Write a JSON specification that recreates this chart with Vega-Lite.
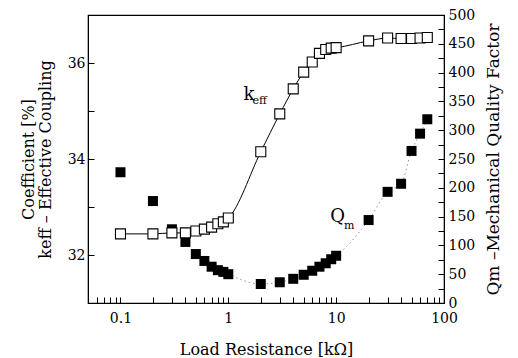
{
  "$schema": "https://vega.github.io/schema/vega-lite/v6.json",
  "width": 356,
  "height": 288,
  "autosize": {"type": "none"},
  "padding": {"left": 88, "top": 15, "right": 74, "bottom": 55},
  "background": "white",
  "config": {
    "view": {"stroke": "black", "strokeWidth": 1.2},
    "font": "DejaVu Serif",
    "axis": {
      "labelFont": "DejaVu Serif",
      "titleFont": "DejaVu Serif",
      "labelColor": "black",
      "titleColor": "black",
      "domainColor": "black",
      "tickColor": "black",
      "tickWidth": 1,
      "grid": false,
      "titleFontWeight": "normal",
      "labelFontSize": 14,
      "titleFontSize": 16
    }
  },
  "datasets": {
    "pts": [
      {"R": 0.1, "k": 32.44, "Q": 227},
      {"R": 0.2, "k": 32.44, "Q": 177},
      {"R": 0.3, "k": 32.46, "Q": 128},
      {"R": 0.4, "k": 32.46, "Q": 106},
      {"R": 0.5, "k": 32.5, "Q": 85},
      {"R": 0.6, "k": 32.54, "Q": 73},
      {"R": 0.7, "k": 32.58, "Q": 63},
      {"R": 0.8, "k": 32.65, "Q": 57},
      {"R": 0.9, "k": 32.69, "Q": 54},
      {"R": 1, "k": 32.77, "Q": 50},
      {"R": 2, "k": 34.15, "Q": 33},
      {"R": 3, "k": 34.94, "Q": 36},
      {"R": 4, "k": 35.46, "Q": 42},
      {"R": 5, "k": 35.81, "Q": 49},
      {"R": 6, "k": 36.02, "Q": 56},
      {"R": 7, "k": 36.2, "Q": 63},
      {"R": 8, "k": 36.28, "Q": 69},
      {"R": 9, "k": 36.31, "Q": 76},
      {"R": 10, "k": 36.32, "Q": 82},
      {"R": 20, "k": 36.46, "Q": 144},
      {"R": 30, "k": 36.52, "Q": 193},
      {"R": 40, "k": 36.51, "Q": 207},
      {"R": 50, "k": 36.51, "Q": 264},
      {"R": 60, "k": 36.52, "Q": 294},
      {"R": 70, "k": 36.53, "Q": 319}
    ],
    "klab": [
      {"R": 1.55, "k": 35.33, "t": "k", "s": 18},
      {"R": 1.95, "k": 35.2, "t": "eff", "s": 11}
    ],
    "qlab": [
      {"R": 10.3, "Q": 150, "t": "Q", "s": 18},
      {"R": 13.2, "Q": 134, "t": "m", "s": 11}
    ]
  },
  "layer": [
    {
      "encoding": {
        "x": {
          "field": "R", "type": "quantitative",
          "scale": {"type": "log", "domain": [0.05, 100], "nice": false},
          "axis": {
            "title": "Load Resistance [k\u03a9]",
            "values": [0.05,0.06,0.07,0.08,0.09,0.1,0.2,0.3,0.4,0.5,0.6,0.7,0.8,0.9,1,2,3,4,5,6,7,8,9,10,20,30,40,50,60,70,80,90,100],
            "labelExpr": "indexof([0.1,1,10,100], datum.value) >= 0 ? format(datum.value, '~g') : ''",
            "tickSize": -6,
            "labelPadding": 14,
            "labelFlush": false,
            "labelOverlap": false,
            "titlePadding": 16
          }
        },
        "y": {
          "field": "Q", "type": "quantitative",
          "scale": {"domain": [0, 500], "nice": false},
          "axis": {
            "orient": "right",
            "title": "Qm \u2013Mechanical Quality Factor",
            "titleAngle": -90,
            "titleFontSize": 17,
            "titlePadding": 28,
            "values": [0,25,50,75,100,125,150,175,200,225,250,275,300,325,350,375,400,425,450,475,500],
            "labelExpr": "datum.value % 50 == 0 ? datum.label : ''",
            "labelOverlap": false,
            "labelFlush": false,
            "tickSize": -6,
            "labelPadding": 10
          }
        }
      },
      "layer": [
        {
          "data": {"name": "pts"},
          "transform": [{"filter": "datum.R >= 0.4"}],
          "mark": {"type": "line", "interpolate": "monotone", "color": "#777", "strokeWidth": 0.8, "strokeDash": [1.5, 3]}
        },
        {
          "data": {"name": "pts"},
          "mark": {"type": "square", "size": 100, "filled": true, "color": "black", "opacity": 1}
        },
        {
          "data": {"name": "qlab"},
          "mark": {"type": "text", "font": "DejaVu Serif", "color": "black", "align": "center", "baseline": "middle"},
          "encoding": {"text": {"field": "t"}, "size": {"field": "s", "type": "quantitative", "scale": null}}
        }
      ]
    },
    {
      "encoding": {
        "x": {"field": "R", "type": "quantitative", "scale": {"type": "log", "domain": [0.05, 100], "nice": false}},
        "y": {
          "field": "k", "type": "quantitative",
          "scale": {"domain": [31, 37], "nice": false},
          "axis": {
            "orient": "left",
            "title": ["Coefficient [%]", "keff \u2013 Effective Coupling"],
            "titlePadding": 14,
            "titleLineHeight": 17,
            "values": [31, 32, 33, 34, 35, 36, 37],
            "labelExpr": "datum.value % 2 == 0 ? datum.label : ''",
            "labelOverlap": false,
            "labelFlush": false,
            "tickSize": -6,
            "labelPadding": 9
          }
        }
      },
      "layer": [
        {
          "data": {"name": "pts"},
          "mark": {"type": "line", "interpolate": "monotone", "color": "black", "strokeWidth": 1}
        },
        {
          "data": {"name": "pts"},
          "mark": {"type": "square", "size": 100, "filled": true, "fill": "white", "stroke": "black", "strokeWidth": 1.1, "opacity": 1}
        },
        {
          "data": {"name": "klab"},
          "mark": {"type": "text", "font": "DejaVu Serif", "color": "black", "align": "center", "baseline": "middle"},
          "encoding": {"text": {"field": "t"}, "size": {"field": "s", "type": "quantitative", "scale": null}}
        }
      ]
    }
  ],
  "resolve": {"scale": {"y": "independent"}}
}
